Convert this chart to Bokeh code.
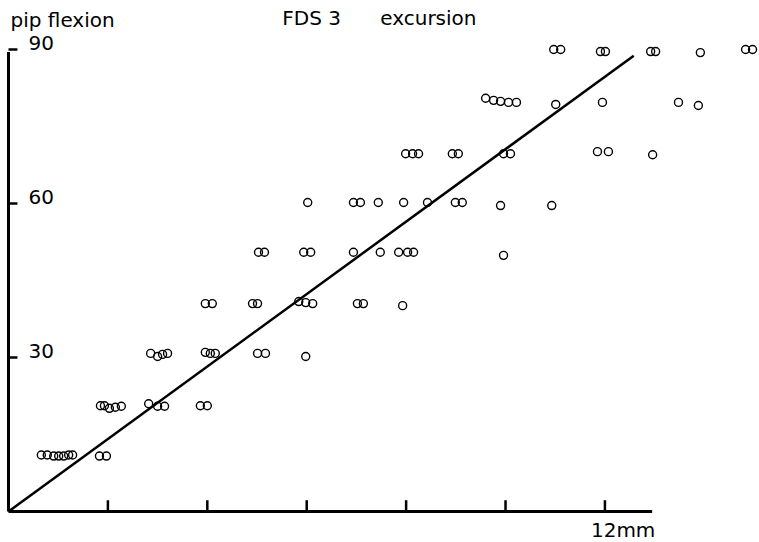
from bokeh.plotting import figure
from bokeh.models import Range1d, ColumnDataSource
from bokeh.core.properties import value
from bokeh.embed import file_html
from bokeh.resources import INLINE

# ---- data ----
excursion_mm = [
    0.66, 0.78, 0.91, 1.01, 1.11, 1.21, 1.29, 1.83, 1.97,
    1.85, 1.93, 2.03, 2.15, 2.27, 2.82, 3.00, 3.14, 3.86, 4.00,
    2.86, 3.00, 3.10, 3.20, 3.96, 4.06, 4.16, 5.01, 5.17, 5.98,
    3.96, 4.10, 4.91, 5.01, 5.84, 5.98, 6.12, 7.02, 7.14, 7.93,
    5.03, 5.15, 5.94, 6.08, 6.94, 7.48, 7.85, 8.03, 8.15, 9.96,
    6.02, 6.94, 7.08, 7.44, 7.95, 8.43, 8.99, 9.13, 9.90, 10.93,
    7.99, 8.13, 8.25, 8.93, 9.05, 9.96, 10.10, 11.85, 12.07, 12.96,
    9.60, 9.76, 9.90, 10.06, 10.22, 11.01, 11.95, 13.48, 13.88,
    10.97, 11.11, 11.91, 12.01, 12.92, 13.02, 13.92, 14.83, 14.97,
]
pip_flexion = [
    11.0, 11.0, 10.8, 10.8, 10.8, 11.0, 11.0, 10.8, 10.8,
    20.6, 20.6, 20.1, 20.3, 20.5, 21.0, 20.5, 20.5, 20.6, 20.6,
    30.8, 30.2, 30.6, 30.8, 31.0, 30.8, 30.8, 30.8, 30.8, 30.2,
    40.5, 40.5, 40.5, 40.5, 40.9, 40.7, 40.5, 40.5, 40.5, 40.1,
    50.5, 50.5, 50.5, 50.5, 50.5, 50.5, 50.5, 50.5, 50.5, 49.9,
    60.2, 60.2, 60.2, 60.2, 60.2, 60.2, 60.2, 60.2, 59.6, 59.6,
    69.7, 69.7, 69.7, 69.7, 69.7, 69.7, 69.7, 70.1, 70.1, 69.5,
    80.5, 80.1, 79.9, 79.7, 79.7, 79.3, 79.7, 79.7, 79.1,
    90.0, 90.0, 89.6, 89.6, 89.6, 89.6, 89.4, 90.0, 90.0,
]
fit_x = [0.0, 12.58]
fit_y = [0.0, 88.8]

x_ticks = [2, 4, 6, 8, 10, 12]
x_tick_label = "12mm"
y_ticks = [30, 60, 90]
y_tick_labels = ["30", "60", "90"]
x_axis_end = 12.95
y_axis_end = 89.5

title_left = "pip flexion"
title_mid1 = "FDS 3"
title_mid2 = "excursion"

FONT = value("DejaVu Sans")
FS = "20px"

p = figure(width=759, height=542, output_backend="svg", toolbar_location=None,
           x_range=Range1d(-0.161, 15.11), y_range=Range1d(-6.04, 99.55),
           min_border=0)
p.xaxis.visible = False
p.yaxis.visible = False
p.xgrid.visible = False
p.ygrid.visible = False
p.outline_line_color = None
p.background_fill_color = "white"
p.border_fill_color = "white"

# axes lines
p.line([0, x_axis_end], [0, 0], line_color="black", line_width=3)
p.line([0, 0], [0, y_axis_end], line_color="black", line_width=3)
# ticks (inside)
p.segment(x0=x_ticks, y0=[0] * len(x_ticks), x1=x_ticks, y1=[2.2] * len(x_ticks),
          line_color="black", line_width=2.5)
p.segment(x0=[0] * len(y_ticks), y0=y_ticks, x1=[0.18] * len(y_ticks), y1=y_ticks,
          line_color="black", line_width=2.5)

# tick labels
p.text(x=[0] * len(y_ticks), y=y_ticks, text=y_tick_labels, text_font=FONT,
       text_font_size=FS, text_color="black", text_baseline="alphabetic",
       text_align="left", x_offset=20, y_offset=-7)
p.text(x=[x_ticks[-1]], y=[0], text=[x_tick_label], text_font=FONT,
       text_font_size=FS, text_color="black", text_baseline="alphabetic",
       text_align="left", x_offset=-14, y_offset=19)

# titles
p.text(x=[0.04], y=[94.7], text=[title_left], text_font=FONT, text_font_size=FS,
       text_color="black", text_baseline="alphabetic", text_align="left", y_offset=-5)
p.text(x=[5.51], y=[95.0], text=[title_mid1], text_font=FONT, text_font_size=FS,
       text_color="black", text_baseline="alphabetic", text_align="left", y_offset=-6)
p.text(x=[7.48], y=[95.0], text=[title_mid2], text_font=FONT, text_font_size=FS,
       text_color="black", text_baseline="alphabetic", text_align="left", y_offset=-6)

# regression line
p.line(fit_x, fit_y, line_color="black", line_width=2.5)

# data points
src = ColumnDataSource(dict(x=excursion_mm, y=pip_flexion))
p.scatter("x", "y", source=src, marker="circle", size=8, fill_color=None,
          line_color="black", line_width=1.4)

open("out.html", "w").write(file_html(p, INLINE))
